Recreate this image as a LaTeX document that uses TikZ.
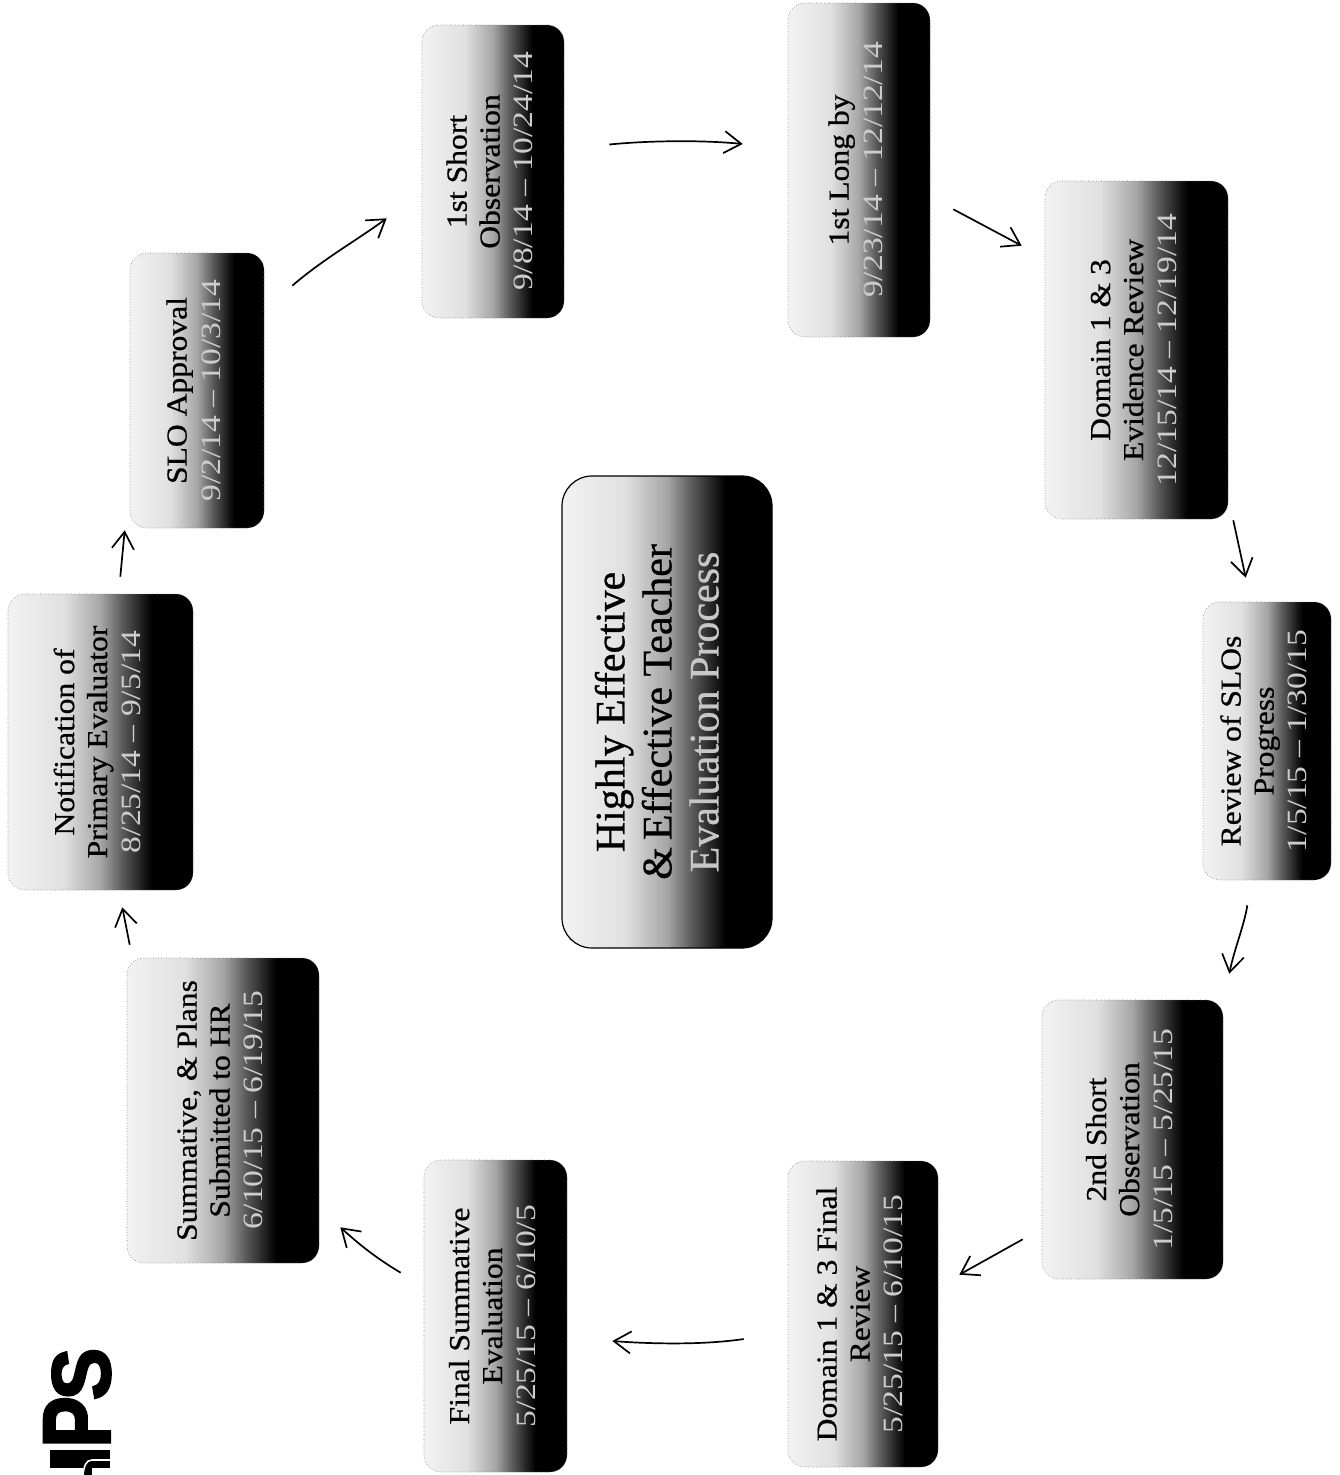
\documentclass[tikz,border=0pt]{standalone}
\usepackage{fontspec}
\usepackage{graphicx}
\setmainfont{Liberation Serif}
\newfontfamily\titlefont[FakeStretch=1.09,FakeBold=0.7]{Liberation Serif}
\newfontfamily\datefont[FakeStretch=1.2]{Liberation Serif}
\newfontfamily\hubfont[FakeBold=0.7]{Liberation Serif}
\newfontfamily\logoP[FakeStretch=0.8,FakeBold=2.5]{Liberation Sans Bold}
\newfontfamily\logoS[FakeStretch=0.95,FakeBold=2.5]{Liberation Sans Bold}
\usetikzlibrary{arrows.meta,calc}
\pgfdeclarehorizontalshading{boxgrad}{100bp}{color(0bp)=(white!95!black); color(25bp)=(white!95!black); color(40bp)=(white!88!black); color(50bp)=(white!65!black); color(56bp)=(white!35!black); color(62bp)=(white!8!black); color(64bp)=(black); color(100bp)=(black)}
\tikzset{
  stage/.style={rectangle,rounded corners=17pt,shading=boxgrad,draw=black!55,line width=0.6pt,dotted,inner sep=0pt,align=center},
  hub/.style={rectangle,rounded corners=30pt,shading=boxgrad,draw=black,line width=1.2pt,inner sep=0pt},
  flow/.style={line width=1.7pt,-{Straight Barb[length=17pt,width=22pt,line width=1.7pt]}},
  logotxt/.style={inner sep=0pt,rotate=90,anchor=base},
}
\newcommand{\stagelabel}[2]{\rotatebox{90}{\fontsize{28}{33}\selectfont\begin{tabular}{@{}c@{}}\titlefont\fontsize{29}{33}\selectfont #1\\[1pt]\datefont\fontsize{28}{33}\selectfont\textcolor{black!20}{#2}\end{tabular}}}
\newcommand{\twolines}[2]{\begin{tabular}{@{}c@{}}#1\\#2\end{tabular}}
\begin{document}
\begin{tikzpicture}[x=1pt,y=-1pt]
\useasboundingbox (0,0) rectangle (1339,1475);
\fill[white] (0,0) rectangle (1339,1475);
% stages
\node[stage,minimum width=185pt,minimum height=296pt] (notif) at (100.5,742) {\stagelabel{\twolines{Notification of}{Primary Evaluator}}{8/25/14 – 9/5/14}};
\node[stage,minimum width=134pt,minimum height=275pt] (slo) at (197,390.5) {\stagelabel{SLO Approval}{9/2/14 – 10/3/14}};
\node[stage,minimum width=142pt,minimum height=293pt] (short1) at (493,171.5) {\stagelabel{\twolines{1st Short}{Observation}}{9/8/14 – 10/24/14}};
\node[stage,minimum width=142pt,minimum height=334pt] (long1) at (859,170) {\stagelabel{1st Long by}{9/23/14 – 12/12/14}};
\node[stage,minimum width=183pt,minimum height=338pt] (dom) at (1136.5,350) {\stagelabel{\twolines{Domain 1 \& 3}{Evidence Review}}{12/15/14 – 12/19/14}};
\node[stage,minimum width=128pt,minimum height=278pt] (rev) at (1267,741) {\stagelabel{\twolines{Review of SLOs}{Progress}}{1/5/15 – 1/30/15}};
\node[stage,minimum width=181pt,minimum height=279pt] (short2) at (1132.5,1139.5) {\stagelabel{\twolines{2nd Short}{Observation}}{1/5/15 – 5/25/15}};
\node[stage,minimum width=150pt,minimum height=306pt] (domf) at (863,1314) {\stagelabel{\twolines{Domain 1 \& 3 Final}{Review}}{5/25/15 – 6/10/15}};
\node[stage,minimum width=143pt,minimum height=312pt] (fin) at (495.5,1316) {\stagelabel{\twolines{Final Summative}{Evaluation}}{5/25/15 – 6/10/5}};
\node[stage,minimum width=192pt,minimum height=305pt] (sum) at (223,1110.5) {\stagelabel{\twolines{Summative, \& Plans}{Submitted to HR}}{6/10/15 – 6/19/15}};
% centre
\node[hub,minimum width=210pt,minimum height=472pt] (hub) at (667,712) {\rotatebox{90}{\hubfont\fontsize{42}{47}\selectfont\begin{tabular}{@{}c@{}}Highly Effective\\\&\,Effective Teacher\\\textcolor{black!22}{Evaluation Process}\\[10pt]\end{tabular}}};
% connectors
\draw[flow] ($(sum.north west)+(3,-13)$) -- ($(notif.south east)+(-71,17)$);
\draw[flow] ($(notif.north east)+(-73,-17)$) -- ($(slo.south west)+(-5,2)$);
\draw[flow] ($(slo.north east)+(28,33)$) .. controls +(30,-26) and +(-30,22) .. ($(short1.south west)+(-35,-100)$);
\draw[flow] ($(short1.east)+(45,-27)$) .. controls +(40,-4) and +(-40,-4) .. ($(long1.west)+(-45,-26)$);
\draw[flow] ($(long1.south east)+(23,-128)$) -- ($(dom.north west)+(-23,65)$);
\draw[flow] ($(dom.south east)+(5,1)$) -- ($(rev.north west)+(43,-24)$);
\draw[flow] ($(rev.south east)+(-84,25)$) .. controls +(-3,20) and +(5,-25) .. ($(short2.north east)+(6,-26)$);
\draw[flow] ($(short2.south west)+(-19,-40)$) -- ($(domf.north east)+(21,114)$);
\draw[flow] ($(domf.west)+(-44,25)$) .. controls +(-40,6) and +(40,3) .. ($(fin.east)+(45,25)$);
\draw[flow] ($(fin.north west)+(-23,113)$) .. controls +(-25,-15) and +(20,18) .. ($(sum.south east)+(21,-36)$);
% logo
\node[logotxt,font=\logoS\fontsize{83}{83}\selectfont] (logos) at (110,1374) {S};
\node[logotxt,font=\logoP\fontsize{96}{96}\selectfont] (logop) at (110,1422) {P};
\fill[black] (50,1450) rectangle (110,1468);
\fill[black] (83,1468) rectangle (92,1475);
\draw[white,line width=1.6pt] (111,1460) -- (92,1460) .. controls (86,1460) and (84,1466) .. (83,1475);
\end{tikzpicture}
\end{document}
